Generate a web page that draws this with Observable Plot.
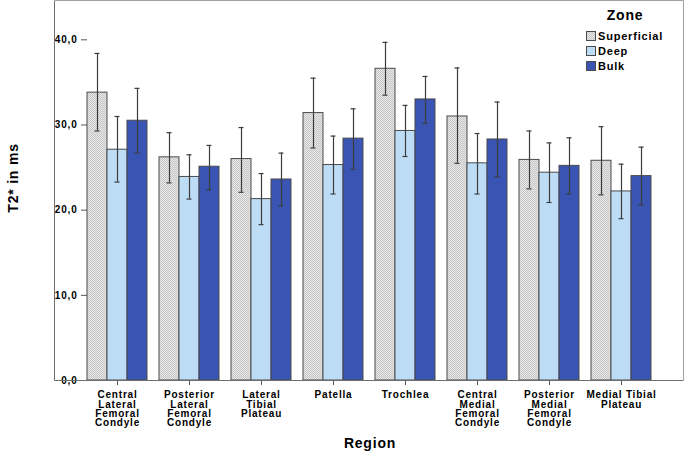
<!DOCTYPE html>
<html>
<head>
<meta charset="utf-8">
<script src="https://cdn.jsdelivr.net/npm/d3@7"></script>
<script src="https://cdn.jsdelivr.net/npm/@observablehq/plot@0.6"></script>
<style>
  body { margin: 0; background: #fff; }
  svg text { letter-spacing: 0.8px; }
</style>
</head>
<body>
<div id="chart"></div>
<script>
const regions = ["Central Lateral Femoral Condyle", "Posterior Lateral Femoral Condyle", "Lateral Tibial Plateau", "Patella", "Trochlea", "Central Medial Femoral Condyle", "Posterior Medial Femoral Condyle", "Medial Tibial Plateau"];
const regionLabels = ["Central\nLateral\nFemoral\nCondyle", "Posterior\nLateral\nFemoral\nCondyle", "Lateral\nTibial\nPlateau", "Patella", "Trochlea", "Central\nMedial\nFemoral\nCondyle", "Posterior\nMedial\nFemoral\nCondyle", "Medial Tibial\nPlateau"];
const zones = ["Superficial", "Deep", "Bulk"];
const yTicks = [0, 10, 20, 30, 40];

const superficialMean = [33.8, 26.2, 26.0, 31.4, 36.6, 31.0, 25.9, 25.8];
const superficialLow  = [29.3, 23.2, 22.1, 27.3, 33.5, 25.5, 22.5, 21.8];
const superficialHigh = [38.4, 29.1, 29.7, 35.5, 39.7, 36.7, 29.3, 29.8];
const deepMean = [27.1, 23.9, 21.3, 25.3, 29.3, 25.5, 24.4, 22.2];
const deepLow  = [23.3, 21.3, 18.3, 21.9, 26.3, 21.9, 20.9, 19.0];
const deepHigh = [31.0, 26.5, 24.3, 28.7, 32.3, 29.0, 27.9, 25.4];
const bulkMean = [30.5, 25.1, 23.6, 28.4, 33.0, 28.3, 25.2, 24.0];
const bulkLow  = [26.7, 22.4, 20.5, 24.8, 30.2, 23.9, 21.9, 20.6];
const bulkHigh = [34.3, 27.6, 26.7, 31.9, 35.7, 32.7, 28.5, 27.4];

const series = {
  Superficial: [superficialMean, superficialLow, superficialHigh],
  Deep: [deepMean, deepLow, deepHigh],
  Bulk: [bulkMean, bulkLow, bulkHigh]
};
const rows = [];
regions.forEach((r, i) => zones.forEach(z => {
  const [m, lo, hi] = series[z];
  rows.push({region: r, zone: z, mean: m[i], low: lo[i], high: hi[i]});
}));

const fills = ["url(#checker)", "#bddcf6", "#3a54b3"];
const font = "'Liberation Sans', Arial, sans-serif";

const chart = Plot.plot({
  width: 685,
  height: 453,
  marginLeft: 55,
  marginRight: 2,
  marginTop: 1,
  marginBottom: 73,
  style: {fontFamily: font, background: "#fff", color: "#000"},
  fx: {domain: regions, paddingInner: 0.17, paddingOuter: 0.43, label: null},
  x: {domain: zones, padding: 0, axis: null},
  y: {domain: [0, 44.5], label: null},
  color: {domain: zones, range: fills},
  marks: [
    Plot.barY(rows, {fx: "region", x: "zone", y: "mean", fill: "zone", stroke: "#4a4a4a", strokeWidth: 1}),
    Plot.ruleX(rows, {fx: "region", x: "zone", y1: "low", y2: "high", stroke: "#3c3c3c", strokeWidth: 1.2}),
    Plot.tickY(rows, {fx: "region", x: "zone", y: "low", stroke: "#3c3c3c", strokeWidth: 1.2, insetLeft: 7.5, insetRight: 7.5}),
    Plot.tickY(rows, {fx: "region", x: "zone", y: "high", stroke: "#3c3c3c", strokeWidth: 1.2, insetLeft: 7.5, insetRight: 7.5}),
    Plot.axisY({ticks: yTicks, tickFormat: d => d.toFixed(1).replace(".", ","), tickSize: 6, tickPadding: 4, fontSize: 10, fontWeight: "bold", label: null, stroke: "#555"}),
    Plot.axisFx({anchor: "bottom", tickFormat: d => regionLabels[regions.indexOf(d)], tickSize: 5, tickPadding: 6, fontSize: 10, fontWeight: "bold", lineHeight: 0.94, label: null, stroke: "#555"})
  ]
});

const svg = d3.select(chart);
const defs = svg.insert("defs", ":first-child");
const pat = defs.append("pattern").attr("id", "checker").attr("patternUnits", "userSpaceOnUse").attr("width", 2).attr("height", 2);
pat.append("rect").attr("width", 2).attr("height", 2).attr("fill", "#e8e8e8");
pat.append("rect").attr("width", 1).attr("height", 1).attr("fill", "#c6c6c6");
pat.append("rect").attr("x", 1).attr("y", 1).attr("width", 1).attr("height", 1).attr("fill", "#c6c6c6");

const ys = chart.scale("y");
const [yBottom, yTop] = ys.range;
const xLeft = 55, xRight = 683;
const g = svg.append("g");
g.append("path").attr("d", `M${xLeft},${yTop - 0.5}H${xRight + 0.5}V${yBottom}`).attr("fill", "none").attr("stroke", "#a0a0a0");
g.append("path").attr("d", `M${xLeft - 0.5},${yTop - 0.5}V${yBottom + 0.5}H${xRight + 0.5}`).attr("fill", "none").attr("stroke", "#6e6e6e");

// Axis titles
svg.append("text").attr("transform", `translate(18,178) rotate(-90)`).attr("text-anchor", "middle")
  .attr("font-family", font).attr("font-weight", "bold").attr("font-size", 14).text("T2* in ms");
svg.append("text").attr("x", 370).attr("y", 448).attr("text-anchor", "middle")
  .attr("font-family", font).attr("font-weight", "bold").attr("font-size", 14).text("Region");

// Legend
const lg = svg.append("g").attr("font-family", font).attr("font-weight", "bold");
lg.append("text").attr("x", 625).attr("y", 20).attr("text-anchor", "middle").attr("font-size", 14).text("Zone");
zones.forEach((z, i) => {
  lg.append("rect").attr("x", 586.5).attr("y", 31.5 + i * 15).attr("width", 9).attr("height", 9)
    .attr("fill", fills[i]).attr("stroke", "#4a4a4a");
  lg.append("text").attr("x", 598).attr("y", 40 + i * 15).attr("text-anchor", "start").attr("font-size", 11).text(z);
});

document.getElementById("chart").appendChild(chart);
</script>
</body>
</html>
